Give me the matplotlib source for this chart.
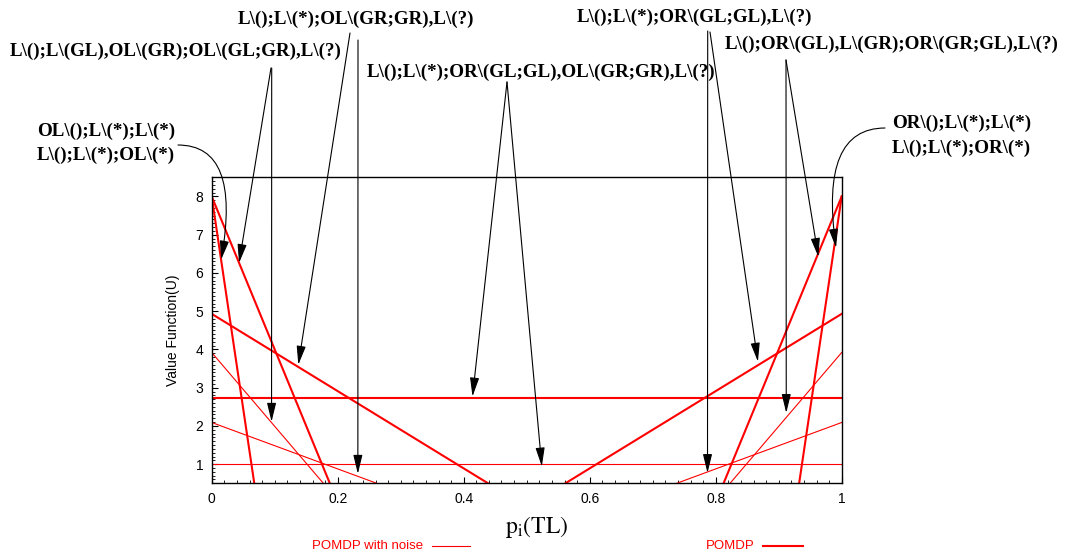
import matplotlib
matplotlib.use('Agg')
import matplotlib.pyplot as plt
from matplotlib.lines import Line2D
from matplotlib.ticker import MultipleLocator, FuncFormatter

W, H = 1067, 556

# alpha vectors: value at p_i(TL)=0 and at p_i(TL)=1
pomdp_at0 = [8.0, 8.0, 4.93, 2.72, -103.0, -32.0, -5.17]
pomdp_at1 = [-103.0, -32.0, -5.17, 2.72, 8.0, 8.0, 4.93]
noise_at0 = [3.92, 2.09, 1.0, -15.38, -3.98]
noise_at1 = [-15.38, -3.98, 1.0, 3.92, 2.09]

xticks = [0, 0.2, 0.4, 0.6, 0.8, 1]
yticks = [1, 2, 3, 4, 5, 6, 7, 8]

policies = [
    "L\\();L\\(*);OL\\(GR;GR),L\\(?)",
    "L\\();L\\(GL),OL\\(GR);OL\\(GL;GR),L\\(?)",
    "L\\();L\\(*);OR\\(GL;GL),OL\\(GR;GR),L\\(?)",
    "L\\();L\\(*);OR\\(GL;GL),L\\(?)",
    "L\\();OR\\(GL),L\\(GR);OR\\(GR;GL),L\\(?)",
    "OL\\();L\\(*);L\\(*)",
    "L\\();L\\(*);OL\\(*)",
    "OR\\();L\\(*);L\\(*)",
    "L\\();L\\(*);OR\\(*)",
]


def fig_xy(px, py):
    return px / W, 1 - py / H


plt.rcParams['font.family'] = ['Liberation Sans', 'DejaVu Sans']
plt.rcParams['mathtext.fontset'] = 'stix'

fig = plt.figure(figsize=(W / 100, H / 100), dpi=100)
ax = fig.add_axes([211.7 / W, 1 - 483.3 / H, 630 / W, 306 / H])

for v0, v1 in zip(noise_at0, noise_at1):
    ax.plot([0, 1], [v0, v1], color='red', lw=0.8)
for v0, v1 in zip(pomdp_at0, pomdp_at1):
    ax.plot([0, 1], [v0, v1], color='red', lw=1.5)

ax.set_xlim(0, 1)
ax.set_ylim(0.5, 8.5)
ax.set_xticks(xticks)
ax.set_yticks(yticks)
ax.xaxis.set_minor_locator(MultipleLocator(0.02))
ax.yaxis.set_minor_locator(MultipleLocator(0.1))
ax.xaxis.set_major_formatter(FuncFormatter(lambda v, p: f'{v:g}'))
ax.tick_params(which='both', direction='in', top=False, right=False, labelsize=10, pad=6)
ax.tick_params(which='major', length=4.5, width=0.8)
ax.tick_params(which='minor', length=2.2, width=0.6)
for s in ax.spines.values():
    s.set_linewidth(1.0)

ax.set_ylabel('Value Function(U)', fontsize=10)
ax.yaxis.set_label_coords(-0.05, 0.5)
ax.set_xlabel(r'$\mathrm{p_{i}(TL)}$', fontsize=17)
ax.xaxis.set_label_coords(0.516, -0.10)

# policy labels
tfont = dict(family=['Liberation Serif', 'DejaVu Serif'], weight='bold', fontsize=13.7)
label_pos = [(238, 19), (10, 51), (367, 72), (577, 17), (725, 44),
             (37, 131), (37, 155), (892, 123), (892, 148)]
for txt, (px, py) in zip(policies, label_pos):
    fig.text(*fig_xy(px, py), txt, ha='left', va='center', **tfont)

# arrows: (start in image px, target in data coords)
arrows = [
    ((271, 68), (0.0434, 6.26)),
    ((271.7, 68), (0.095, 2.11)),
    ((350, 33), (0.1375, 3.6)),
    ((358, 40), (0.232, 0.75)),
    ((507, 82), (0.414, 2.77)),
    ((507, 82), (0.524, 0.94)),
    ((707.7, 31), (0.787, 0.77)),
    ((710, 32), (0.867, 3.68)),
    ((786, 60), (0.912, 2.34)),
    ((786, 60), (0.963, 6.42)),
]
astyle = dict(arrowstyle='-|>,head_length=1.15,head_width=0.28', color='black',
              lw=0.8, shrinkA=0, shrinkB=0, mutation_scale=10)
for (px, py), target in arrows:
    ax.annotate('', xy=target, xycoords='data', xytext=fig_xy(px, py),
                textcoords='figure fraction', arrowprops=astyle, annotation_clip=False)

ax.annotate('', xy=(0.015, 6.35), xycoords='data', xytext=fig_xy(178, 145),
            textcoords='figure fraction', annotation_clip=False,
            arrowprops=dict(astyle, connectionstyle='angle3,angleA=0,angleB=80'))
ax.annotate('', xy=(0.991, 6.66), xycoords='data', xytext=fig_xy(885, 128),
            textcoords='figure fraction', annotation_clip=False,
            arrowprops=dict(astyle, connectionstyle='angle3,angleA=0,angleB=98'))

# key below the plot
kfont = dict(color='red', fontsize=9.5, ha='right', va='center')
fig.text(*fig_xy(423, 546), 'POMDP with noise', **kfont)
fig.add_artist(Line2D([432 / W, 470 / W], [1 - 546 / H] * 2, color='red', lw=0.8))
fig.text(*fig_xy(755, 546), 'POMDP', **kfont)
fig.add_artist(Line2D([763 / W, 803 / W], [1 - 546 / H] * 2, color='red', lw=1.5))

fig.savefig('out.png', dpi=100)
